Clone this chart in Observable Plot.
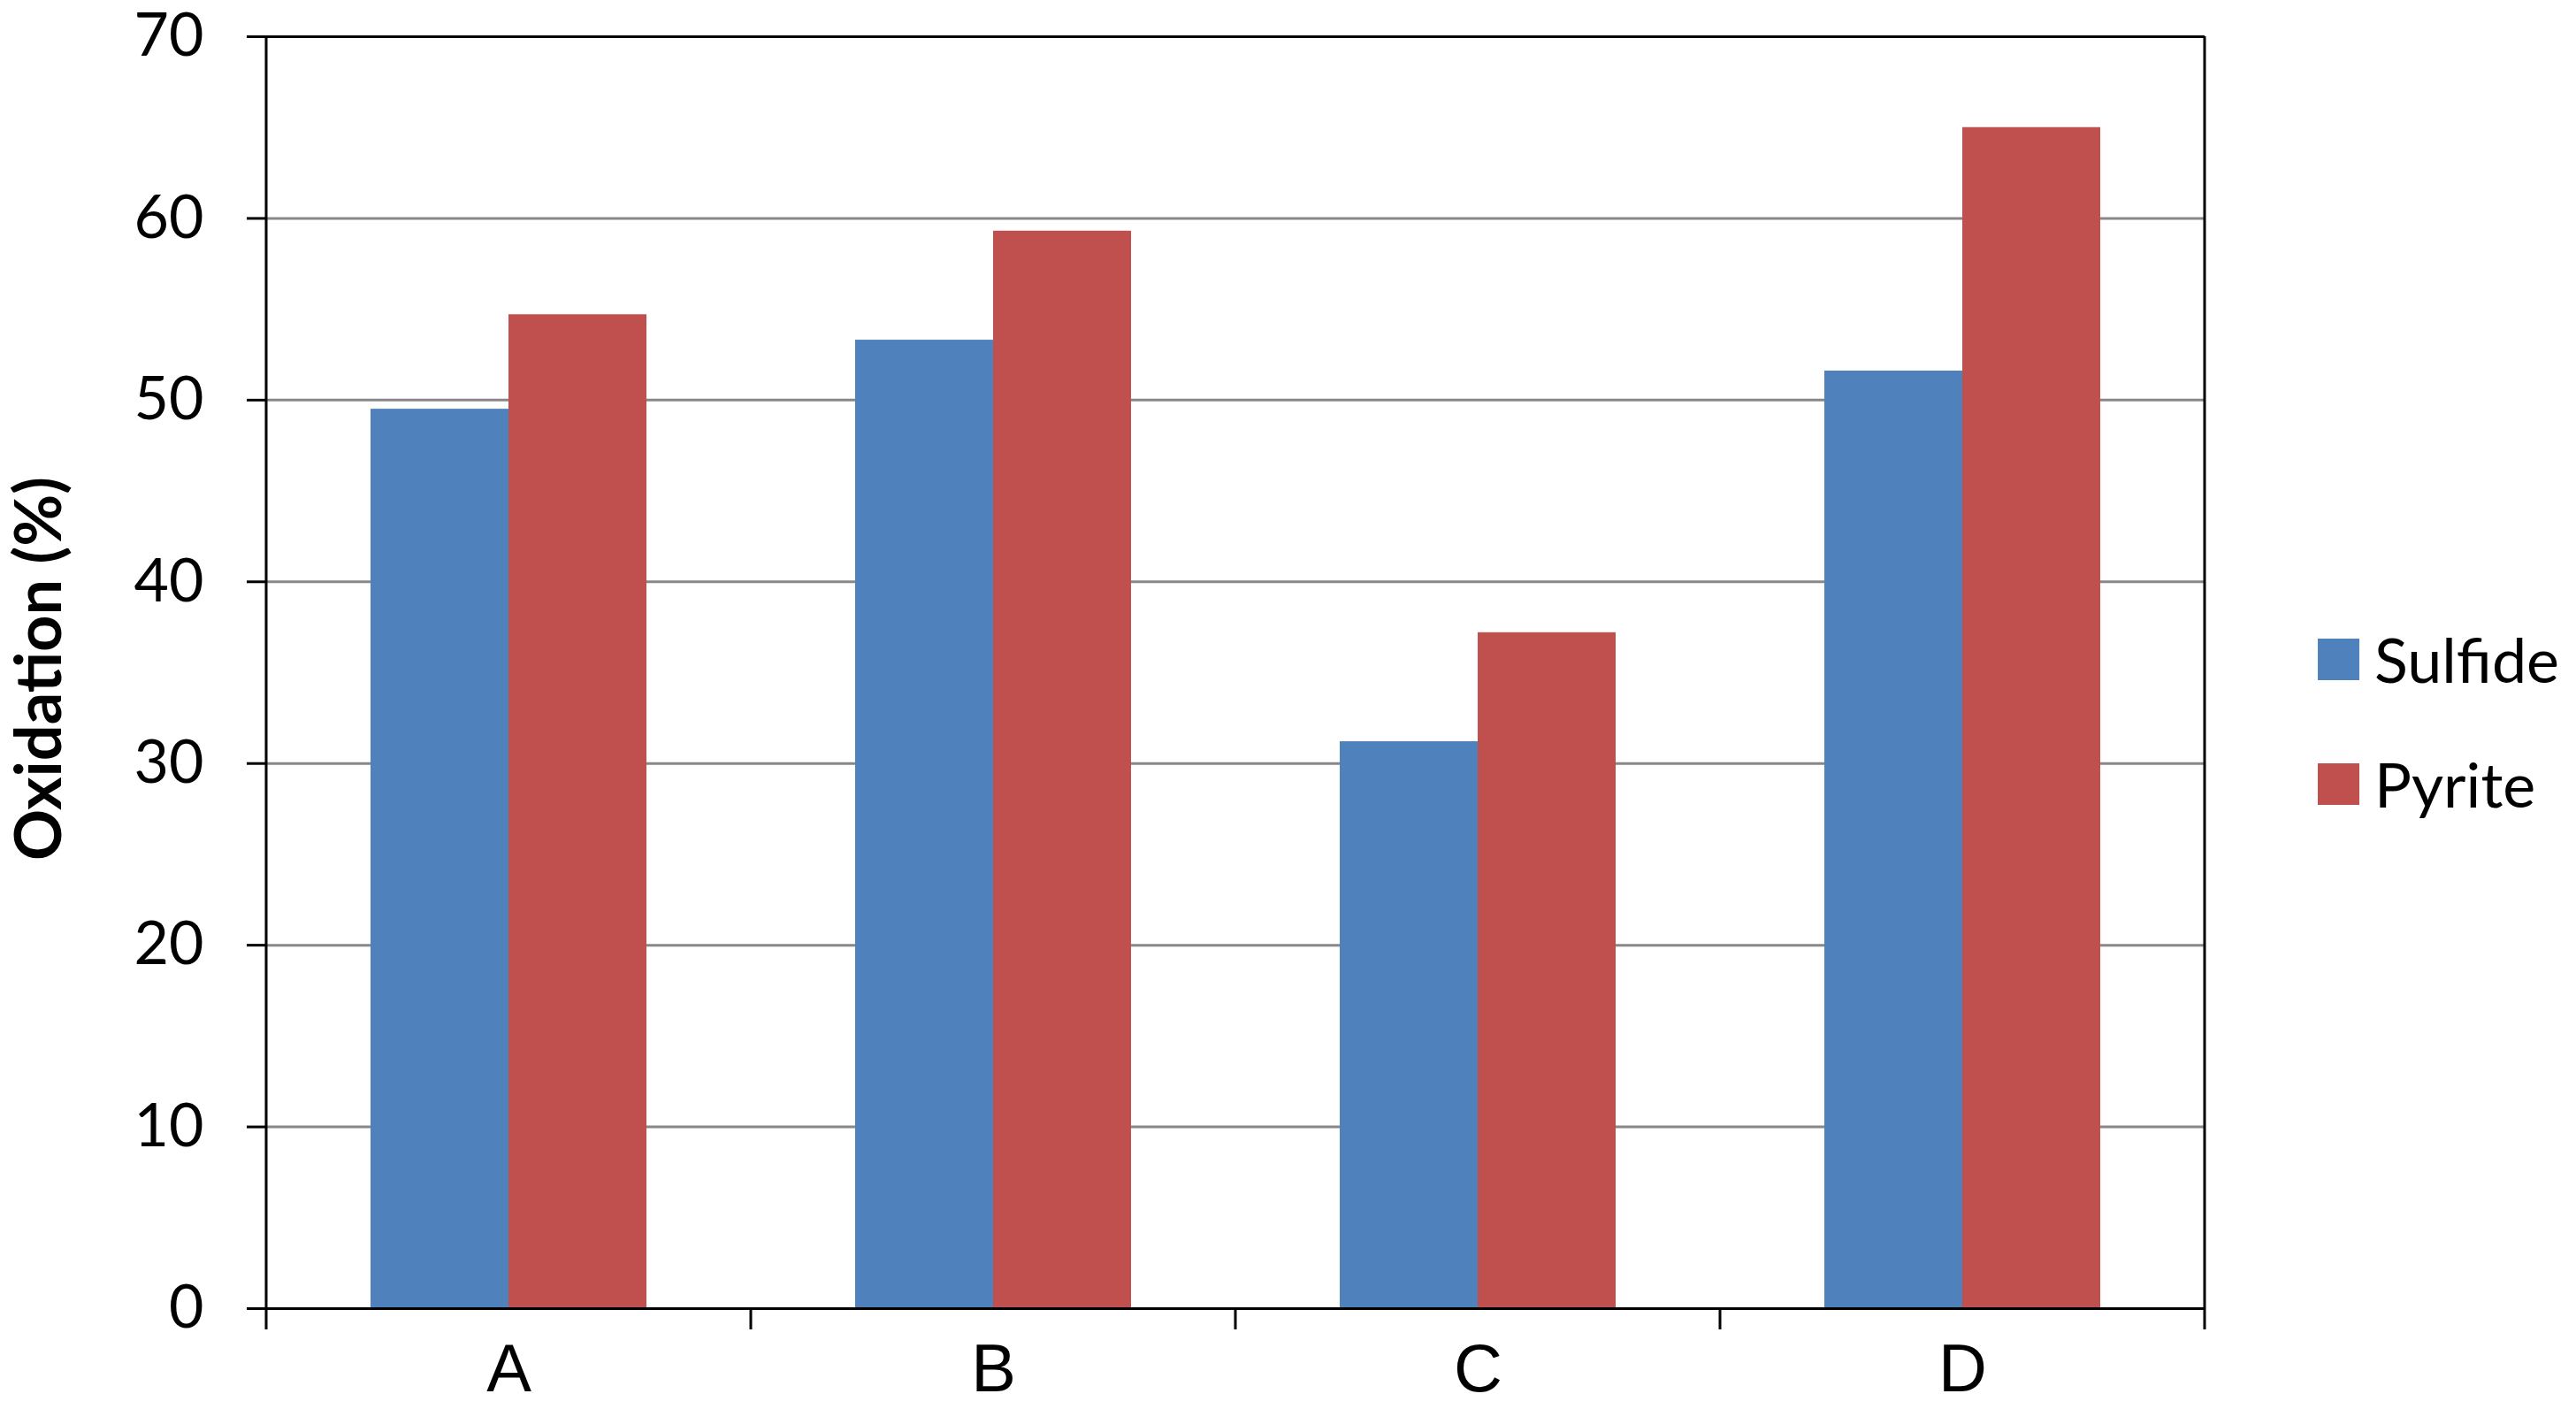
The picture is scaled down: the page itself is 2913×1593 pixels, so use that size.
<!DOCTYPE html>
<html>
<head>
<meta charset="utf-8">
<script src="https://cdn.jsdelivr.net/npm/d3@7"></script>
<script src="https://cdn.jsdelivr.net/npm/@observablehq/plot@0.6"></script>
<style>
  html, body { margin: 0; padding: 0; background: #fff; overflow: hidden; }
  #wrap { position: relative; width: 2913px; height: 1593px; background: #fff; }
  #chart svg { display: block; }
  #chart svg text { font-family: Lato, "Open Sans", sans-serif; }
  #chart svg [aria-label^="fx-axis"] text { font-family: "Liberation Sans", Arial, sans-serif; font-size: 76px; }
  #chart svg [aria-label^="y-axis"] line, #chart svg [aria-label^="y-axis"] path { stroke-width: 3px; stroke: #000; }
  #ylabel {
    position: absolute; left: 41px; top: 756px;
    transform: translate(-50%, -50%) rotate(-90deg);
    font-family: Lato, "Open Sans", sans-serif; font-weight: bold; font-size: 72px;
    white-space: nowrap; color: #000; line-height: 1;
  }
  #legend { position: absolute; left: 2621px; top: 722px; }
  #legend .lg-swatches { font-family: Lato, "Open Sans", sans-serif; font-size: 70px; color: #000; margin: 0; }
  #legend .lg-swatch { height: 47px; margin-bottom: 94px; padding: 0; display: flex; align-items: center; }
  #legend .lg-swatch > svg { margin-right: 17px; }
  #legend .lg-swatch-label { line-height: 47px; overflow: visible; }
</style>
</head>
<body>
<div id="wrap">
  <div id="chart"></div>
  <div id="ylabel">Oxidation (%)</div>
  <div id="legend"></div>
</div>
<script>
const categories = ["A", "B", "C", "D"];
const series = ["Sulfide", "Pyrite"];
const sulfide = [49.5, 53.3, 31.2, 51.6];
const pyrite = [54.7, 59.3, 37.2, 65.0];
const yTicks = [0, 10, 20, 30, 40, 50, 60, 70];
const colors = ["#4F81BD", "#C0504D"];

const data = categories.flatMap((c, i) => [
  {category: c, series: "Sulfide", value: sulfide[i]},
  {category: c, series: "Pyrite", value: pyrite[i]}
]);

const W = 2913, H = 1593;
const chart = Plot.plot({
  width: W,
  height: H,
  marginLeft: 301,
  marginRight: 420,
  marginTop: 41,
  marginBottom: 114,
  style: {fontSize: "68px", background: "#fff", color: "#000", overflow: "visible"},
  facet: {data: data, x: "category"},
  fx: {domain: categories, padding: 0, axis: "bottom", label: null, tickSize: 0, tickPadding: 40},
  x: {domain: series, paddingInner: 0, paddingOuter: 0.75, axis: null},
  y: {domain: [0, 70], ticks: yTicks, tickSize: 22, tickPadding: 49, label: null},
  color: {domain: series, range: colors},
  marks: [
    Plot.ruleY(yTicks.filter(v => v > 0 && v < 70), {stroke: "#888888", strokeWidth: 3}),
    Plot.barY(data, {x: "series", y: "value", fill: "series"}),
    Plot.ruleY([0, 70], {stroke: "#000", strokeWidth: 3})
  ]
});
document.getElementById("chart").appendChild(chart);

// vertical frame lines and category boundary ticks, from the library's scales
const fx = chart.scale("fx");
const ys = chart.scale("y");
const yPix = v => ys.range[0] + (v - ys.domain[0]) / (ys.domain[1] - ys.domain[0]) * (ys.range[1] - ys.range[0]);
const r0 = fx.range[0], step = fx.step;
const y0 = yPix(0), yTop = yPix(70);
const g = d3.select(chart).append("g").attr("stroke", "#000").attr("stroke-width", 3);
categories.concat([null]).forEach((c, i) => {
  const x = r0 + i * step;
  const isEdge = i === 0 || i === categories.length;
  g.append("line").attr("x1", x).attr("x2", x).attr("y1", isEdge ? yTop : y0).attr("y2", y0 + 24);
});

const leg = Plot.legend({
  color: {domain: series, range: colors},
  columns: 1,
  swatchSize: 47,
  className: "lg"
});
document.getElementById("legend").appendChild(leg);
</script>
</body>
</html>
